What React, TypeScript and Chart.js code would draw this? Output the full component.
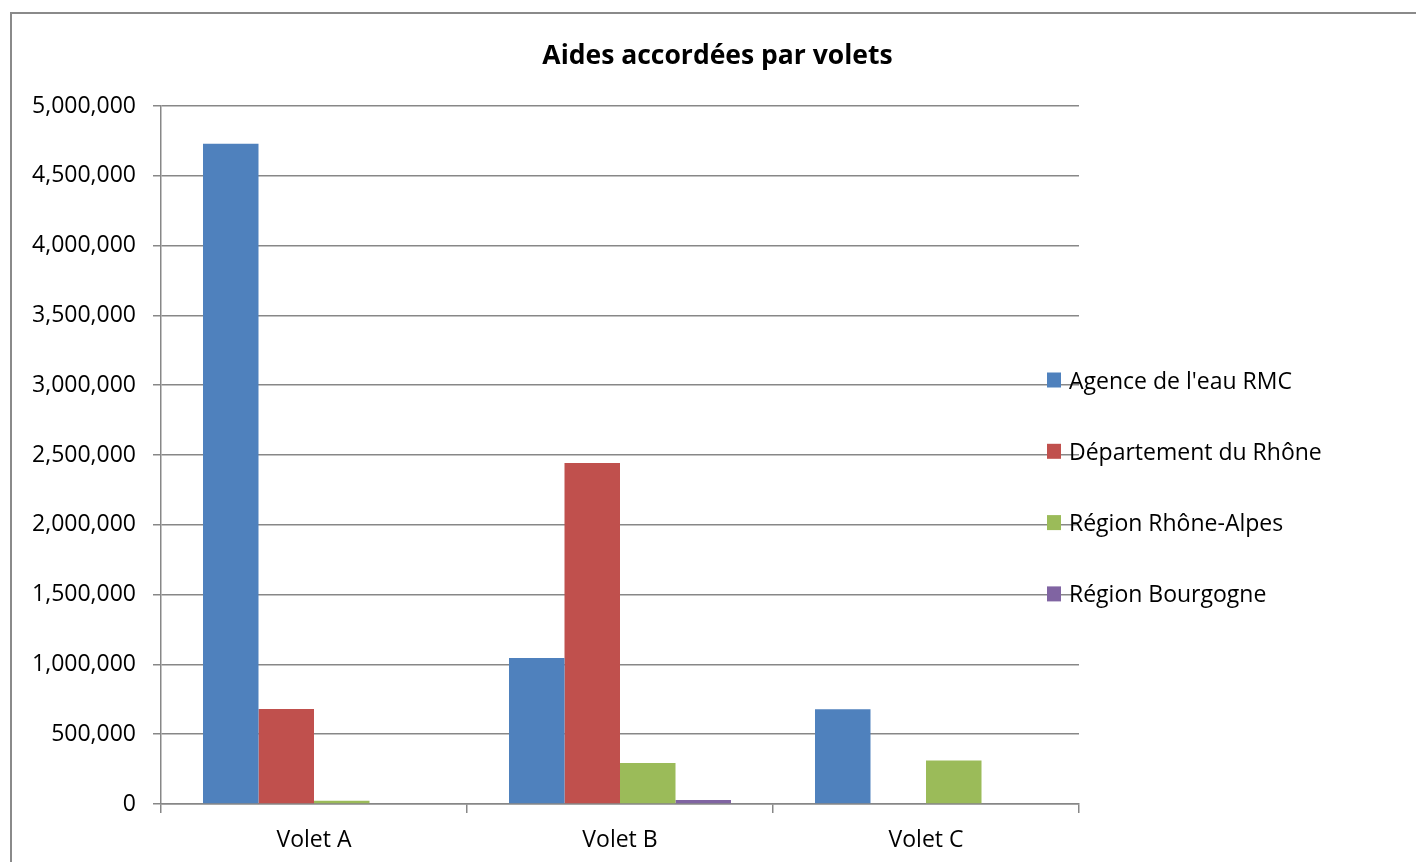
import React, { useEffect, useRef } from "react";
import { Chart, registerables } from "chart.js";

Chart.register(...registerables);

const categories = ["Volet A", "Volet B", "Volet C"];
const seriesNames = [
  "Agence de l'eau RMC",
  "Département du Rhône",
  "Région Rhône-Alpes",
  "Région Bourgogne",
];
const agenceValues = [4730000, 1045000, 678000];
const departementValues = [680000, 2443000, 0];
const rhoneAlpesValues = [23000, 294000, 312000];
const bourgogneValues = [0, 28000, 0];
const seriesColors = ["#4F81BD", "#C0504D", "#9BBB59", "#8064A2"];
const titleText = "Aides accordées par volets";

const FONT = '"Open Sans", "Noto Sans", sans-serif';
const GRID = "#878787";

const sideLegend = {
  id: "sideLegend",
  afterDraw(chart: any) {
    const ctx = chart.ctx as CanvasRenderingContext2D;
    ctx.save();
    ctx.font = `23px ${FONT}`;
    ctx.textBaseline = "middle";
    ctx.textAlign = "left";
    chart.data.datasets.forEach((ds: any, i: number) => {
      const cy = 380.5 + i * 71.3;
      ctx.fillStyle = ds.backgroundColor;
      ctx.fillRect(1047, cy - 8, 14, 15);
      ctx.fillStyle = "#000";
      ctx.fillText(ds.label, 1069, cy + 1.5);
    });
    ctx.restore();
  },
};

export default function App() {
  const ref = useRef<HTMLCanvasElement>(null);

  useEffect(() => {
    const valueSets = [agenceValues, departementValues, rhoneAlpesValues, bourgogneValues];
    const chart = new Chart(ref.current!, {
      type: "bar",
      data: {
        labels: categories,
        datasets: valueSets.map((vals, i) => ({
          label: seriesNames[i],
          data: vals,
          backgroundColor: seriesColors[i],
          borderWidth: 0,
          categoryPercentage: 0.7255,
          barPercentage: 1,
        })),
      },
      options: {
        responsive: false,
        animation: false,
        devicePixelRatio: 1,
        layout: { padding: { left: 19, right: 0, top: 0, bottom: 0 } },
        plugins: {
          legend: { display: false },
          tooltip: { enabled: false },
          title: {
            display: true,
            text: titleText,
            color: "#000",
            font: { family: FONT, size: 26.5, weight: "bold" },
            padding: { top: 40.1, bottom: 34.1 },
          },
        },
        scales: {
          x: {
            offset: true,
            grid: {
              display: true,
              drawOnChartArea: false,
              drawTicks: true,
              tickLength: 9,
              color: GRID,
              lineWidth: 1.5,
              offset: true,
            },
            border: { display: true, color: GRID, width: 1.5 },
            ticks: {
              color: "#000",
              font: { family: FONT, size: 23 },
              padding: 13.6,
              maxRotation: 0,
            },
            afterFit: (s: any) => {
              s.height = 58;
            },
          },
          y: {
            min: 0,
            max: 5000000,
            grid: {
              color: GRID,
              lineWidth: 1.5,
              tickLength: 8,
              drawTicks: true,
            },
            border: { display: true, color: GRID, width: 1.5 },
            ticks: {
              stepSize: 500000,
              color: "#000",
              font: { family: FONT, size: 23 },
              padding: 17,
              callback: (v: any) => Number(v).toLocaleString("en-US"),
            },
            afterFit: (s: any) => {
              s.width = 142;
            },
          },
          y2: {
            position: "right",
            display: true,
            grid: { display: false, drawTicks: false },
            border: { display: false },
            ticks: { display: false },
            afterFit: (s: any) => {
              s.width = 337;
            },
          },
        },
      },
      plugins: [sideLegend],
    } as any);
    return () => chart.destroy();
  }, []);

  return (
    <div
      style={{
        position: "fixed",
        left: 0,
        top: 0,
        width: 1416,
        height: 862,
        overflow: "hidden",
        background: "#fff",
      }}
    >
      <div
        style={{
          position: "absolute",
          left: 10,
          top: 12,
          width: 1500,
          height: 1000,
          border: "2px solid #8a8a8a",
          boxSizing: "border-box",
        }}
      />
      <canvas
        ref={ref}
        width={1416}
        height={862}
        style={{ position: "absolute", left: 0, top: 0, width: 1416, height: 862 }}
      />
    </div>
  );
}
